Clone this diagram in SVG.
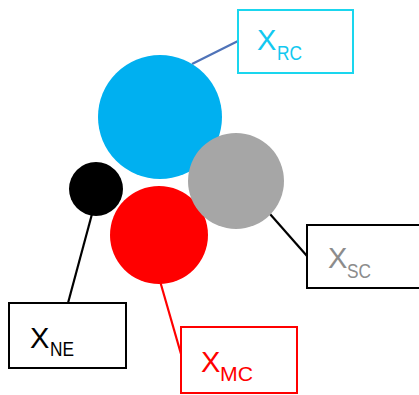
<svg xmlns="http://www.w3.org/2000/svg" width="419" height="395" viewBox="0 0 419 395">
<style>
.box{fill:#fff;stroke-width:2}
.t{font-family:"Liberation Sans",Arial,sans-serif;font-size:29px}
.s{font-family:"Liberation Sans",Arial,sans-serif;font-size:21px}
.ln{fill:none;stroke-width:2.2}
</style>
<rect width="419" height="395" fill="#fff"/>
<g id="connectors">
<line class="ln" x1="192" y1="64" x2="238" y2="41" stroke="#4f73b8"/>
<line class="ln" x1="92" y1="214" x2="68" y2="303" stroke="#000"/>
<line class="ln" x1="160" y1="281" x2="181" y2="354" stroke="#f00"/>
<line class="ln" x1="270" y1="214" x2="307" y2="256" stroke="#000"/>
</g>
<g id="circle-rc"><circle cx="160" cy="117" r="62" fill="#00b0f0"/></g>
<g id="circle-ne"><circle cx="96" cy="189" r="27" fill="#000"/></g>
<g id="circle-mc"><circle cx="159" cy="235" r="49" fill="#f00"/></g>
<g id="circle-sc"><circle cx="236" cy="181" r="48" fill="#a6a6a6"/></g>
<g id="box-rc">
<rect class="box" x="238" y="10" width="115" height="63" stroke="#1ad6ee"/>
<text class="t" x="257" y="50" fill="#12c8f0">X</text>
<text class="s" x="277" y="60" fill="#12c8f0" textLength="25" lengthAdjust="spacingAndGlyphs">RC</text>
</g>
<g id="box-ne">
<rect class="box" x="9" y="303" width="117" height="65" stroke="#000"/>
<text class="t" x="30" y="348" fill="#000">X</text>
<text class="s" x="50" y="356" fill="#000" textLength="24" lengthAdjust="spacingAndGlyphs">NE</text>
</g>
<g id="box-mc">
<rect class="box" x="181" y="327" width="116" height="66" stroke="#f00"/>
<text class="t" x="201" y="372" fill="#f00">X</text>
<text class="s" x="220" y="381" fill="#f00" textLength="33" lengthAdjust="spacingAndGlyphs">MC</text>
</g>
<g id="box-sc">
<rect class="box" x="307" y="225" width="116" height="63" stroke="#000"/>
<text class="t" x="328" y="268" fill="#8c8c8c">X</text>
<text class="s" x="347" y="278" fill="#8c8c8c" textLength="24" lengthAdjust="spacingAndGlyphs">SC</text>
</g>
</svg>
